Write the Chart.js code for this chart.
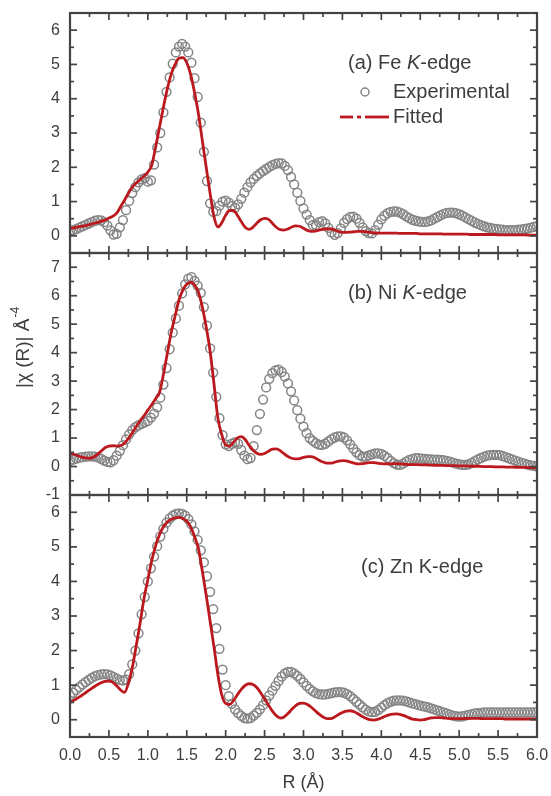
<!DOCTYPE html>
<html>
<head>
<meta charset="utf-8">
<script src="https://cdn.jsdelivr.net/npm/chart.js@4/dist/chart.umd.min.js"></script>
<style>
  html, body { margin: 0; padding: 0; background: #fff; }
  #wrap { position: relative; width: 551px; height: 796px; overflow: hidden; background: #fff; }
  #wrap canvas { position: absolute; left: 0; }
</style>
</head>
<body>
<div id="wrap">
  <canvas id="fe" width="551" height="266" style="top:0px;width:551px;height:266px"></canvas>
  <canvas id="ni" width="551" height="268" style="top:240px;width:551px;height:268px"></canvas>
  <canvas id="zn" width="551" height="314" style="top:482px;width:551px;height:314px"></canvas>
</div>
<script>
// Sampling grids of the Fourier-transformed EXAFS data (Å)
const expStep = 0.04;   // experimental points, R = 0 ... 6.00
const fitStep = 0.05;   // fitted curve, R = 0 ... 6.00

// Axis ticks
const xTicks  = [0, 0.5, 1.0, 1.5, 2.0, 2.5, 3.0, 3.5, 4.0, 4.5, 5.0, 5.5, 6.0];
const yTicksFe = [0, 1, 2, 3, 4, 5, 6];
const yTicksNi = [-1, 0, 1, 2, 3, 4, 5, 6, 7];
const yTicksZn = [0, 1, 2, 3, 4, 5, 6];
const yRangeFe = [-0.5, 6.5];
const yRangeNi = [-1, 7.5];
const yRangeZn = [-0.5, 6.5];

// (a) Fe K-edge |chi(R)|
const feExp = [
  0.15,0.17,0.20,0.24,0.28,0.32,0.36,0.40,0.44,0.46,0.45,0.40,0.30,0.16,0.04,0.06,0.25,0.46,0.75,1.02,1.25,1.42,1.56,1.65,1.68,
  1.58,1.62,2.08,2.58,3.00,3.60,4.20,4.62,5.02,5.35,5.52,5.60,5.52,5.35,5.05,4.60,4.05,3.30,2.45,1.60,0.95,0.70,0.72,0.88,1.00,
  1.03,0.97,0.87,0.82,0.92,1.08,1.26,1.42,1.56,1.66,1.75,1.82,1.89,1.95,2.01,2.06,2.10,2.12,2.11,2.04,1.92,1.72,1.50,1.26,1.02,
  0.80,0.62,0.46,0.32,0.32,0.40,0.43,0.36,0.23,0.10,0.03,0.08,0.22,0.38,0.49,0.55,0.56,0.50,0.38,0.25,0.14,0.08,0.07,0.17,0.33,
  0.48,0.59,0.66,0.70,0.71,0.71,0.68,0.63,0.57,0.52,0.47,0.44,0.42,0.41,0.41,0.42,0.45,0.50,0.55,0.60,0.64,0.67,0.68,0.68,0.66,
  0.63,0.59,0.54,0.49,0.44,0.39,0.35,0.31,0.28,0.25,0.23,0.21,0.20,0.19,0.18,0.17,0.17,0.17,0.17,0.18,0.19,0.20,0.22,0.24,0.26,
  0.28
];
const feFit = [
  0.22,0.23,0.26,0.28,0.30,0.33,0.36,0.39,0.42,0.46,0.52,0.57,0.66,0.85,1.04,1.24,1.42,1.54,1.64,1.74,
  1.86,2.06,2.59,3.17,3.75,4.28,4.71,5.00,5.18,5.20,5.05,4.71,4.18,3.56,2.78,2.00,1.24,0.56,0.26,0.38,
  0.60,0.74,0.74,0.60,0.42,0.25,0.19,0.25,0.37,0.47,0.51,0.48,0.37,0.25,0.18,0.17,0.20,0.26,0.29,0.28,
  0.22,0.16,0.13,0.14,0.17,0.19,0.20,0.20,0.17,0.13,0.10,0.10,0.11,0.12,0.13,0.13,0.12,0.10,0.09,0.08,
  0.08,0.08,0.08,0.08,0.08,0.07,0.07,0.07,0.07,0.07,0.06,0.06,0.06,0.06,0.06,0.06,0.05,0.05,0.05,0.05,
  0.05,0.05,0.05,0.04,0.04,0.04,0.04,0.04,0.04,0.04,0.03,0.03,0.03,0.03,0.03,0.03,0.03,0.03,0.02,0.02,
  0.02
];

// (b) Ni K-edge |chi(R)|
const niExp = [
  0.20,0.24,0.28,0.31,0.33,0.35,0.36,0.36,0.35,0.32,0.27,0.21,0.16,0.15,0.22,0.38,0.55,0.75,0.95,1.13,1.28,1.38,1.45,1.50,1.55,
  1.60,1.72,1.86,2.08,2.42,2.88,3.46,4.12,4.70,5.20,5.65,6.08,6.40,6.60,6.65,6.52,6.35,6.10,5.60,4.95,4.15,3.30,2.45,1.70,1.10,
  0.78,0.72,0.80,0.86,0.80,0.58,0.38,0.26,0.30,0.72,1.28,1.85,2.35,2.78,3.08,3.28,3.38,3.40,3.32,3.16,2.92,2.64,2.32,1.98,1.68,
  1.40,1.17,1.00,0.90,0.82,0.77,0.76,0.80,0.88,0.96,1.02,1.06,1.06,1.02,0.92,0.78,0.63,0.50,0.40,0.35,0.35,0.39,0.43,0.46,0.46,
  0.44,0.38,0.30,0.20,0.12,0.07,0.06,0.10,0.17,0.23,0.27,0.29,0.29,0.28,0.27,0.26,0.25,0.24,0.24,0.23,0.22,0.20,0.17,0.14,0.10,
  0.08,0.06,0.06,0.08,0.13,0.19,0.25,0.30,0.35,0.38,0.40,0.41,0.41,0.40,0.37,0.33,0.29,0.25,0.21,0.17,0.13,0.10,0.07,0.04,0.02,
  0.00
];
const niFit = [
  0.47,0.43,0.38,0.33,0.30,0.29,0.33,0.42,0.54,0.66,0.72,0.73,0.72,0.74,0.82,0.98,1.18,1.40,1.60,1.78,
  1.98,2.17,2.38,2.60,3.23,3.97,4.70,5.28,5.85,6.20,6.40,6.48,6.38,6.12,5.60,4.90,4.05,2.90,1.70,1.12,
  0.75,0.72,0.85,1.00,1.05,0.95,0.75,0.58,0.47,0.43,0.46,0.54,0.61,0.62,0.56,0.45,0.35,0.29,0.27,0.28,
  0.32,0.35,0.35,0.30,0.22,0.16,0.12,0.12,0.15,0.19,0.21,0.20,0.16,0.12,0.09,0.10,0.12,0.14,0.14,0.12,
  0.10,0.09,0.09,0.10,0.10,0.09,0.08,0.07,0.07,0.07,0.06,0.06,0.05,0.05,0.04,0.04,0.04,0.03,0.03,0.03,
  0.02,0.02,0.02,0.01,0.01,0.01,0.00,0.00,0.00,-0.01,-0.01,-0.01,-0.02,-0.02,-0.02,-0.03,-0.03,-0.03,-0.04,-0.04,
  -0.05
];

// (c) Zn K-edge |chi(R)|
const znExp = [
  0.70,0.78,0.86,0.94,1.02,1.09,1.15,1.21,1.26,1.29,1.31,1.32,1.31,1.28,1.24,1.19,1.15,1.13,1.16,1.32,1.60,2.00,2.50,3.05,3.55,
  4.00,4.38,4.72,5.02,5.30,5.52,5.70,5.82,5.90,5.95,5.97,5.95,5.90,5.80,5.65,5.45,5.20,4.90,4.55,4.15,3.70,3.20,2.65,2.05,1.45,
  1.00,0.68,0.46,0.30,0.19,0.11,0.05,0.03,0.05,0.12,0.20,0.30,0.42,0.56,0.70,0.84,0.98,1.12,1.25,1.34,1.38,1.38,1.34,1.27,1.18,
  1.08,0.98,0.89,0.82,0.77,0.74,0.73,0.73,0.75,0.77,0.79,0.80,0.80,0.78,0.74,0.68,0.60,0.52,0.44,0.36,0.29,0.24,0.22,0.23,0.28,
  0.35,0.42,0.48,0.52,0.55,0.56,0.56,0.55,0.53,0.50,0.47,0.45,0.42,0.40,0.38,0.36,0.33,0.30,0.27,0.24,0.21,0.18,0.15,0.12,0.10,
  0.09,0.10,0.12,0.14,0.16,0.18,0.19,0.20,0.21,0.21,0.21,0.21,0.21,0.21,0.21,0.21,0.21,0.21,0.21,0.21,0.21,0.21,0.21,0.21,0.21,
  0.21
];
const znFit = [
  0.50,0.56,0.63,0.70,0.78,0.86,0.94,1.01,1.07,1.11,1.12,1.08,0.98,0.86,0.79,1.05,1.50,2.13,2.78,3.50,
  4.05,4.60,5.03,5.35,5.58,5.72,5.80,5.84,5.85,5.82,5.74,5.58,5.30,4.95,4.30,3.60,2.85,2.10,1.30,0.72,
  0.47,0.44,0.55,0.72,0.88,0.99,1.04,1.02,0.93,0.78,0.60,0.42,0.25,0.12,0.05,0.08,0.18,0.30,0.41,0.47,
  0.48,0.44,0.36,0.26,0.16,0.08,0.03,0.03,0.08,0.15,0.21,0.25,0.26,0.23,0.17,0.10,0.04,0.00,-0.01,0.01,
  0.05,0.10,0.14,0.16,0.17,0.15,0.11,0.06,0.02,0.00,-0.01,0.00,0.03,0.05,0.06,0.06,0.05,0.04,0.03,0.03,
  0.03,0.03,0.04,0.04,0.04,0.04,0.03,0.03,0.03,0.03,0.03,0.03,0.02,0.02,0.02,0.02,0.02,0.02,0.02,0.02,
  0.02
];

const seriesLabels = ['Experimental', 'Fitted'];

// ---- styling ----
const FONT = '"Liberation Sans", Arial, Helvetica, sans-serif';
const INK = '#3d3d3d';
const FRAME = '#444444';
const CIRCLE = '#858585';
const RED = '#bb191e';

Chart.defaults.font.family = FONT;
Chart.defaults.color = INK;

const toPoints = (vals, step) => vals.map((v, i) => ({ x: +(i * step).toFixed(2), y: v }));

// Frame, inward ticks on all four sides, panel caption and legend
const panelDecor = {
  id: 'panelDecor',
  afterDraw(chart, args, o) {
    const { ctx, chartArea: a, scales: { x, y } } = chart;
    ctx.save();
    const seg = (x1, y1, x2, y2) => { ctx.beginPath(); ctx.moveTo(x1, y1); ctx.lineTo(x2, y2); ctx.stroke(); };
    ctx.strokeStyle = FRAME;
    ctx.lineWidth = 1.7;
    const inside = (v, s) => v > s.min + 1e-6 && v < s.max - 1e-6;
    // x ticks: majors every 0.5, minors halfway between
    xTicks.forEach((v, i) => {
      const px = x.getPixelForValue(v);
      if (inside(v, x)) { seg(px, a.bottom, px, a.bottom - 7); seg(px, a.top, px, a.top + 7); }
      if (i < xTicks.length - 1) {
        const m = x.getPixelForValue((v + xTicks[i + 1]) / 2);
        seg(m, a.bottom, m, a.bottom - 4); seg(m, a.top, m, a.top + 4);
      }
    });
    // y ticks: majors at labelled values, minors halfway
    const yt = o.yTicks;
    const minors = [];
    yt.forEach((v, i) => {
      if (i < yt.length - 1) minors.push((v + yt[i + 1]) / 2);
    });
    minors.push(yt[0] - 0.5, yt[yt.length - 1] + 0.5);
    yt.forEach(v => {
      if (!inside(v, y)) return;
      const py = y.getPixelForValue(v);
      seg(a.left, py, a.left + 7, py); seg(a.right, py, a.right - 7, py);
    });
    minors.forEach(v => {
      if (!inside(v, y)) return;
      const py = y.getPixelForValue(v);
      seg(a.left, py, a.left + 4, py); seg(a.right, py, a.right - 4, py);
    });
    ctx.lineWidth = 2.2;
    ctx.strokeRect(a.left, a.top, a.width, a.height);

    // caption, with an italic K where needed
    ctx.fillStyle = INK;
    ctx.textBaseline = 'middle';
    ctx.textAlign = 'left';
    let cx = o.captionX;
    const cy = a.top + o.captionDy;
    o.caption.forEach(([t, it]) => {
      ctx.font = (it ? 'italic ' : '') + '20px ' + FONT;
      ctx.fillText(t, cx, cy);
      cx += ctx.measureText(t).width;
    });

    // legend
    if (o.legend) {
      const ds = chart.data.datasets;
      const expDs = ds.find(d => d.label === seriesLabels[0]);
      const fitDs = ds.find(d => d.label === seriesLabels[1]);
      const ly1 = a.top + 79, ly2 = a.top + 104;
      ctx.font = '20px ' + FONT;
      ctx.strokeStyle = expDs.pointBorderColor;
      ctx.lineWidth = 1.5;
      ctx.beginPath(); ctx.arc(365, ly1, 4, 0, Math.PI * 2); ctx.stroke();
      ctx.fillText(expDs.label, 393, ly1);
      ctx.strokeStyle = fitDs.borderColor;
      ctx.lineWidth = 2.8;
      seg(340, ly2, 353, ly2); seg(357, ly2, 361, ly2); seg(365, ly2, 389, ly2);
      ctx.fillText(fitDs.label, 393, ly2);
    }

    // y-axis title, shared by the three panels
    if (o.yTitle) {
      ctx.save();
      ctx.translate(24, 348 - chart.canvas.offsetTop);
      ctx.rotate(-Math.PI / 2);
      ctx.font = '19px ' + FONT;
      const main = '|\u03C7 (R)| \u00C5';
      const w1 = ctx.measureText(main).width;
      ctx.font = '12px ' + FONT;
      const sup = '-4';
      const w2 = ctx.measureText(sup).width;
      const sx = -(w1 + w2) / 2;
      ctx.font = '19px ' + FONT;
      ctx.fillText(main, sx, 0);
      ctx.font = '12px ' + FONT;
      ctx.fillText(sup, sx + w1 + 1, -8);
      ctx.restore();
    }
    ctx.restore();
  }
};

function makePanel(id, expVals, fitVals, yRange, yTicks, decor, showX) {
  return new Chart(document.getElementById(id), {
    type: 'scatter',
    data: {
      datasets: [
        {
          label: seriesLabels[1],
          data: toPoints(fitVals, fitStep),
          showLine: true,
          borderColor: RED,
          borderWidth: 2.8,
          pointRadius: 0,
          cubicInterpolationMode: 'monotone',
          order: 0
        },
        {
          label: seriesLabels[0],
          data: toPoints(expVals, expStep),
          showLine: false,
          pointStyle: 'circle',
          pointRadius: 4.4,
          pointBorderWidth: 1.5,
          pointBorderColor: CIRCLE,
          pointBackgroundColor: 'rgba(0,0,0,0)',
          borderColor: CIRCLE,
          backgroundColor: 'rgba(0,0,0,0)',
          order: 1
        }
      ]
    },
    options: {
      responsive: false,
      animation: false,
      devicePixelRatio: 1,
      events: [],
      layout: { padding: { left: 0, right: 14, top: 13, bottom: showX ? 0 : 13 } },
      plugins: {
        legend: { display: false },
        tooltip: { enabled: false },
        panelDecor: Object.assign({ yTicks }, decor)
      },
      scales: {
        x: {
          type: 'linear',
          min: 0, max: 6,
          display: showX,
          grid: { display: false, drawTicks: false },
          border: { display: false },
          afterBuildTicks: s => { s.ticks = xTicks.map(v => ({ value: v })); },
          afterFit: s => { s.paddingLeft = 0; s.paddingRight = 0; if (showX) s.height = 59; },
          ticks: {
            padding: 9,
            color: INK,
            font: { size: 16 },
            maxRotation: 0,
            autoSkip: false,
            callback: v => Number(v).toFixed(1)
          },
          title: {
            display: showX,
            text: 'R (\u00C5)',
            color: INK,
            font: { size: 18 },
            padding: { top: 0, bottom: 2 }
          }
        },
        y: {
          type: 'linear',
          min: yRange[0], max: yRange[1],
          grid: { display: false, drawTicks: false },
          border: { display: false },
          afterBuildTicks: s => { s.ticks = yTicks.map(v => ({ value: v })); },
          afterFit: s => { s.width = 70; s.paddingTop = 0; s.paddingBottom = 0; },
          ticks: {
            padding: 10,
            color: INK,
            font: { size: 16 },
            autoSkip: false,
            callback: v => String(v)
          }
        }
      }
    },
    plugins: [panelDecor]
  });
}

makePanel('fe', feExp, feFit, yRangeFe, yTicksFe, {
  caption: [['(a) Fe ', false], ['K', true], ['-edge', false]],
  captionX: 348, captionDy: 50, legend: true
}, false);

makePanel('ni', niExp, niFit, yRangeNi, yTicksNi, {
  caption: [['(b) Ni ', false], ['K', true], ['-edge', false]],
  captionX: 348, captionDy: 40, yTitle: true
}, false);

makePanel('zn', znExp, znFit, yRangeZn, yTicksZn, {
  caption: [['(c) Zn K-edge', false]],
  captionX: 361, captionDy: 72
}, true);
</script>
</body>
</html>
